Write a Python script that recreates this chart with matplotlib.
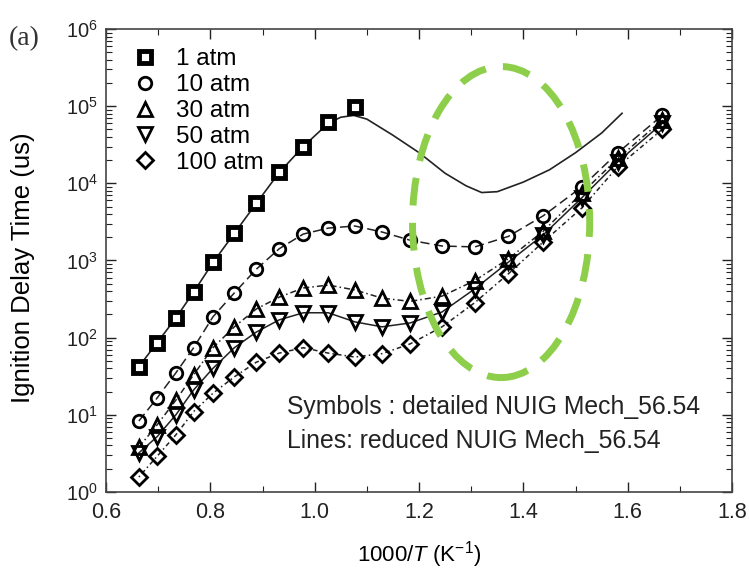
import numpy as np
import matplotlib
matplotlib.use('Agg')
import matplotlib.pyplot as plt
from matplotlib.patches import Ellipse
from matplotlib.ticker import FixedLocator, LogFormatterMathtext, NullFormatter

plt.rcParams['font.family'] = 'Liberation Sans'
plt.rcParams['mathtext.fontset'] = 'custom'
plt.rcParams['mathtext.rm'] = 'Liberation Sans'
plt.rcParams['mathtext.it'] = 'Liberation Sans:italic'

# DATA
inv_T = [0.663, 0.698, 0.734, 0.768, 0.805, 0.846, 0.888, 0.932, 0.978, 1.026,
         1.077, 1.129, 1.183, 1.244, 1.307, 1.371, 1.438, 1.512, 1.581, 1.666]

idt_1atm = [41, 85, 178, 390, 950, 2250, 5500, 13900, 30000, 62000, 97000]
idt_10atm = [8.3, 16.5, 35, 74, 186, 380, 770, 1420, 2200, 2630, 2800, 2340, 1830,
             1540, 1500, 2050, 3800, 9000, 25000, 76000]
idt_30atm = [3.8, 7.4, 15.5, 33, 74, 138, 235, 335, 440, 480, 415, 325, 295,
             345, 550, 1050, 2400, 7500, 21000, 66000]
idt_50atm = [3.2, 5.2, 10, 21, 40, 74, 118, 170, 210, 210, 160, 138, 155,
             215, 430, 950, 2150, 6500, 19000, 60000]
idt_100atm = [1.56, 2.9, 5.5, 11, 19, 31, 48, 63, 74, 63, 56, 62, 83,
              138, 285, 670, 1740, 4800, 16500, 50000]

# reduced mechanism, 1 atm (solid line)
line1_x = [0.663, 0.698, 0.734, 0.768, 0.805, 0.846, 0.888, 0.932, 0.978, 1.026, 1.05,
           1.075, 1.10, 1.15, 1.20, 1.25, 1.29, 1.32, 1.35, 1.40, 1.45, 1.50, 1.55, 1.589]
line1_y = [42, 86, 180, 390, 940, 2250, 5500, 13800, 30000, 60000, 72000,
           76000, 68000, 42000, 25000, 13500, 9300, 7600, 7800, 10400, 15000, 25000, 45000, 81000]

labels = ['1 atm', '10 atm', '30 atm', '50 atm', '100 atm']
x_major = [0.6, 0.8, 1.0, 1.2, 1.4, 1.6, 1.8]
x_minor = [0.7, 0.9, 1.1, 1.3, 1.5, 1.7]
y_major = [1e0, 1e1, 1e2, 1e3, 1e4, 1e5, 1e6]

fig = plt.figure(figsize=(7.49, 5.70), dpi=100)
ax = fig.add_axes([0.1415, 0.137, 0.836, 0.812])

ms = 9
mew = 2.0

# lines (reduced mech)
ax.plot(line1_x, line1_y, '-', color='#222222', lw=1.2)
ax.plot(inv_T, idt_10atm, color='#222222', lw=1.1, ls=(0, (6, 3)))
ax.plot(inv_T, idt_30atm, color='#222222', lw=1.1, ls=(0, (4, 2, 1, 2)))
ax.plot(inv_T, idt_50atm, color='#222222', lw=1.1, ls='-')
ax.plot(inv_T, idt_100atm, color='#222222', lw=1.1, ls=(0, (1, 2, 3, 2)))

# symbols (detailed mech)
h1, = ax.plot(inv_T[:len(idt_1atm)], idt_1atm, 's', ms=9, mfc='white', mec='black', mew=3.5, ls='none')
h2, = ax.plot(inv_T, idt_10atm, 'o', ms=ms, mfc='none', mec='black', mew=mew, ls='none')
h3, = ax.plot(inv_T, idt_30atm, '^', ms=ms + 1, mfc='none', mec='black', mew=mew, ls='none')
h4, = ax.plot(inv_T, idt_50atm, 'v', ms=ms + 1, mfc='none', mec='black', mew=mew, ls='none')
h5, = ax.plot(inv_T, idt_100atm, 'D', ms=ms - 1, mfc='none', mec='black', mew=mew, ls='none')

ax.set_yscale('log')
ax.set_xlim(0.6, 1.8)
ax.set_ylim(1, 1e6)
ax.xaxis.set_major_locator(FixedLocator(x_major))
ax.xaxis.set_minor_locator(FixedLocator(x_minor))
ax.xaxis.set_major_formatter(plt.FuncFormatter(lambda v, p: '%.1f' % v))
ax.yaxis.set_major_locator(FixedLocator(y_major))
ax.yaxis.set_major_formatter(LogFormatterMathtext())
y_minor = [m * 10.0 ** e for e in range(0, 6) for m in range(2, 10)]
ax.yaxis.set_minor_locator(FixedLocator(y_minor))
ax.yaxis.set_minor_formatter(NullFormatter())

ax.tick_params(which='both', direction='in', top=True, right=True, colors='#222222')
ax.tick_params(which='major', length=7, width=1.0)
ax.tick_params(which='minor', length=4, width=0.8)
ax.tick_params(axis='x', labelsize=15.5, pad=7)
ax.tick_params(axis='y', labelsize=14.5, pad=6)
for sp in ax.spines.values():
    sp.set_color('#444444')
    sp.set_linewidth(1.2)

ax.set_xlabel('1000/$\\it{T}$ (K$^{-1}$)', fontsize=16)
ax.xaxis.set_label_coords(0.5, -0.136)
ax.xaxis.label.set_va('center')
ax.set_ylabel('Ignition Delay Time (us)', fontsize=18.5)
ax.yaxis.set_label_coords(-0.113, 0.484)

leg = ax.legend([h1, h2, h3, h4, h5], labels, loc='upper left', bbox_to_anchor=(0.015, 0.99),
                frameon=False, fontsize=17.5, handlelength=1.2, handletextpad=0.7,
                labelspacing=0.16, borderaxespad=0.2)

ax.text(0.289, 0.184, 'Symbols : detailed NUIG Mech_56.54', transform=ax.transAxes,
        fontsize=17.8, va='center', ha='left', color='#222222')
ax.text(0.289, 0.111, 'Lines: reduced NUIG Mech_56.54', transform=ax.transAxes,
        fontsize=17.8, va='center', ha='left', color='#222222')

# highlighted region
ell = Ellipse((0.631, 0.583), 0.283, 0.672, transform=ax.transAxes, fill=False,
              edgecolor='#8dcf4b', lw=5, ls=(0, (4, 2.5)), zorder=5)
ax.add_patch(ell)

fig.text(0.012, 0.92, '(a)', fontsize=20, family='Liberation Serif', color='#333333')

fig.savefig('out.png', dpi=100)
